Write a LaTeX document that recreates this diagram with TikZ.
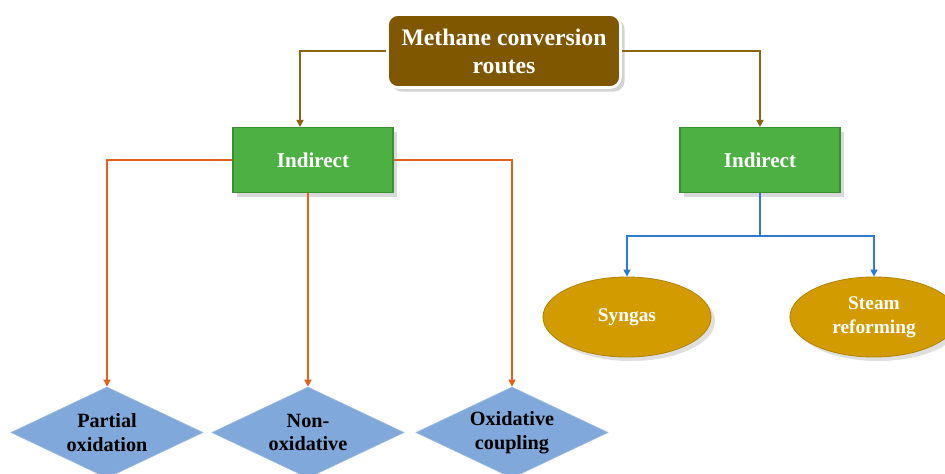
\documentclass[tikz,border=0pt]{standalone}
\usepackage{fontspec}
\setmainfont{Liberation Serif}
\usepackage{xcolor}
\usetikzlibrary{arrows.meta,positioning,shapes.geometric,shadows}

\definecolor{routebrown}{HTML}{7F5700}
\definecolor{linebrown}{HTML}{8C6412}
\definecolor{indgreen}{HTML}{4DB043}
\definecolor{inddark}{HTML}{3A9030}
\definecolor{gasgold}{HTML}{D29C00}
\definecolor{diablue}{HTML}{80A8DA}
\definecolor{lineorange}{HTML}{E2621C}
\definecolor{lineblue}{HTML}{2E7BD0}

\tikzset{
  rootbox/.style={rectangle, rounded corners=6pt, fill=routebrown, draw=white,
    line width=1.5pt, drop shadow={opacity=0.35}, minimum width=4.66cm,
    minimum height=1.46cm, align=center, text=white,
    font=\bfseries\fontsize{13.5}{16}\selectfont},
  indbox/.style={rectangle, fill=indgreen, draw=inddark, line width=0.6pt,
    drop shadow={opacity=0.3}, minimum width=3.2cm, minimum height=1.3cm,
    text=white, font=\bfseries\fontsize{12}{14}\selectfont},
  methbox/.style={diamond, aspect=2.2, inner sep=0pt, fill=diablue,
    draw=diablue!80!white, minimum width=3.84cm, minimum height=1.82cm,
    align=center, font=\bfseries\fontsize{11.5}{13.5}\selectfont},
  gasbox/.style={ellipse, fill=gasgold, draw=gasgold!85!black, line width=0.5pt,
    drop shadow={opacity=0.25}, minimum width=3.36cm, minimum height=1.6cm,
    inner sep=0pt, align=center, text=white,
    font=\bfseries\fontsize{11}{13.5}\selectfont},
  tip/.style={-{Triangle[length=4pt,width=4pt]}, line width=0.9pt}
}

\begin{document}
\begin{tikzpicture}
  \useasboundingbox (0,0) rectangle (18.9,-9.46);

  % nodes
  \node[rootbox] (root) at (10.08,-1.02) {Methane conversion\\routes};
  \node[indbox] (indl) at (6.26,-3.2) {Indirect};
  \node[indbox] (indr) at (15.2,-3.2) {Indirect};
  \node[methbox] (pox) at (2.14,-8.65) {Partial\\oxidation};
  \node[methbox] (nonox) at (6.16,-8.65) {Non-\\oxidative};
  \node[methbox] (oxcoup) at (10.24,-8.65) {Oxidative\\coupling};
  \node[gasbox] (syngas) at (12.54,-6.34) {Syngas};
  \node[gasbox] (steam) at (17.48,-6.34) {Steam\\reforming};

  % root to the two branches
  \draw[tip, linebrown] (root.west) -| ([xshift=-0.26cm]indl.north);
  \draw[tip, linebrown] (root.east) -| (indr.north);

  % left branch
  \draw[tip, lineorange] (indl.west) -| (pox.north);
  \draw[tip, lineorange] (indl.south -| nonox.north) -- (nonox.north);
  \draw[tip, lineorange] (indl.east) -| (oxcoup.north);

  % right branch
  \draw[lineblue, line width=0.9pt] (indr.south) -- ++(0,-0.86) coordinate (split);
  \draw[tip, lineblue] (split) -| (syngas.north);
  \draw[tip, lineblue] (split) -| (steam.north);
\end{tikzpicture}
\end{document}
